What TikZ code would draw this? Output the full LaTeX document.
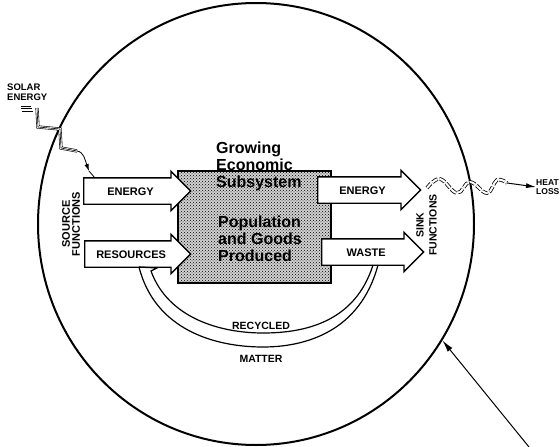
\documentclass[tikz,border=0pt]{standalone}
\usepackage{fontspec}
\setmainfont{Liberation Sans}
\usepackage{tikz}
\usetikzlibrary{arrows.meta,positioning,shapes.arrows,shapes.geometric,patterns,calc}

\begin{document}
\begin{tikzpicture}[x=1pt, y=-1pt,
                    every flow/.style = {fill=white},
                    flow/.style = {single arrow, draw=black, line width=1.4pt, every flow,
                            minimum width=38pt, single arrow head extend=6.5pt,
                            inner xsep=0pt, inner ysep=8.5pt, text height=8pt, text depth=0pt,
                            font=\fontsize{11}{12}\bfseries},
                    subsystem/.style = {rectangle, draw=black, line width=1.4pt, fill=black!18,
                            postaction={pattern=crosshatch dots, pattern color=black},
                            minimum width=153pt, minimum height=112pt},
                    big label/.style = {anchor=north west, inner sep=0pt, align=left, font=\fontsize{16}{17}\bfseries},
                    small label/.style = {inner sep=0pt, align=center, font=\fontsize{10.5}{11}\bfseries},
                    side label/.style = {rotate=90, inner sep=0pt, align=center, font=\fontsize{11}{10}\bfseries},
                    ray/.style = {line width=0.6pt, preaction={draw, double, double distance=2pt}},
                    wave/.style = {double, double distance=2pt, line width=0.8pt, dash pattern=on 6pt off 2pt},
                    recycle/.style = {line width=1.2pt} ]

                \useasboundingbox (0,0) rectangle (560,447);

                % the finite ecosystem
                \node [ellipse, draw, line width=2pt, minimum width=436pt, minimum height=442pt] (earth) at (256,224) {};

                % economic subsystem
                \node [subsystem] (economy) at (254.5,227) {};

                % flows in and out
                \node [flow, minimum height=107pt, anchor=tail] (energy in) at (83,191) {ENERGY};
                \node [flow, minimum height=106pt, anchor=tail] (resources) at (84,254) {RESOURCES};
                \node [flow, minimum height=103pt, anchor=tail] (energy out) at (317,190) {ENERGY};
                \node [flow, minimum height=102pt, anchor=tail] (waste) at (321,252) {WASTE};

                \node [big label] (growing) at (216,142) {Growing\\Economic\\Subsystem};
                \node [big label] (population) at (218,216) {Population\\and Goods\\Produced};

                \node [side label] (source) at (71,224) {SOURCE\\FUNCTIONS};
                \node [side label, font=\fontsize{10.5}{13}\bfseries] (sink) at (426.5,225) {SINK\\FUNCTIONS};

                % solar energy left
                \node [small label, align=left, anchor=north west, font=\fontsize{9.5}{10}\bfseries] (solar) at (7,84) {SOLAR\\ENERGY};
                \draw [line width=0.6pt] (21,106) -- (31,106) (21,108.5) -- (32,108.5) (22,111) -- (33,111);
                \coordinate (sun) at (37,108);
                \coordinate (ray bend) at (77,151);
                \coordinate (ray tip) at (89,171);
                \coordinate (ray end) at ($(energy in.tail)+(12,-13)$);
                \draw [ray] (sun) -- ++(1,19) -- ++(22,2) -- ++(1,19) -- (ray bend);
                \draw [line width=0.8pt, -{Latex[length=7pt, width=4.5pt]}] (ray bend) .. controls (84,152) and (85,160) .. (ray tip);
                \draw [line width=0.8pt] (ray tip) -- (ray end);

                % heat loss right
                \node [anchor=west, align=left, inner sep=0pt, font=\fontsize{8.5}{9.5}\bfseries] (heat) at (536,187) {HEAT\\LOSS};
                \coordinate (heat start) at (427,188);
                \coordinate (heat end) at (507,183);
                \draw [wave] plot [smooth, tension=0.7] coordinates {(heat start) (440,179) (457,193) (470,182) (487,193) (497,180) (heat end)};
                \draw [line width=1pt, -{Latex[length=10pt, width=5pt]}] (heat end) -- (heat.west);

                % recycled matter
                \coordinate (waste out) at ($(waste.tail)+(57,13)$);
                \coordinate (resources in) at ($(resources.tail)+(55,13)$);
                \draw [recycle] (waste out) .. controls (360,332) and (305,347) .. (263,347)
                                .. controls (215,347) and (155,330) .. (resources in);
                \draw [recycle] ($(waste out)+(-5,0)$) .. controls (355,322) and (305,333) .. (263,333)
                                .. controls (220,333) and (168,318) .. ($(resources in)+(12,4)$) -- ++(6,-3) -- (resources in);
                \node [small label] (recycled) at (261,326) {RECYCLED};
                \node [small label] (matter) at (261,359) {MATTER};

                % pointer to the ecosystem
                \coordinate (pointer) at (529,447);
                \draw [line width=1pt, -{Latex[length=12pt, width=6pt]}] (pointer) -- (earth.-32);

\end{tikzpicture}
\end{document}
